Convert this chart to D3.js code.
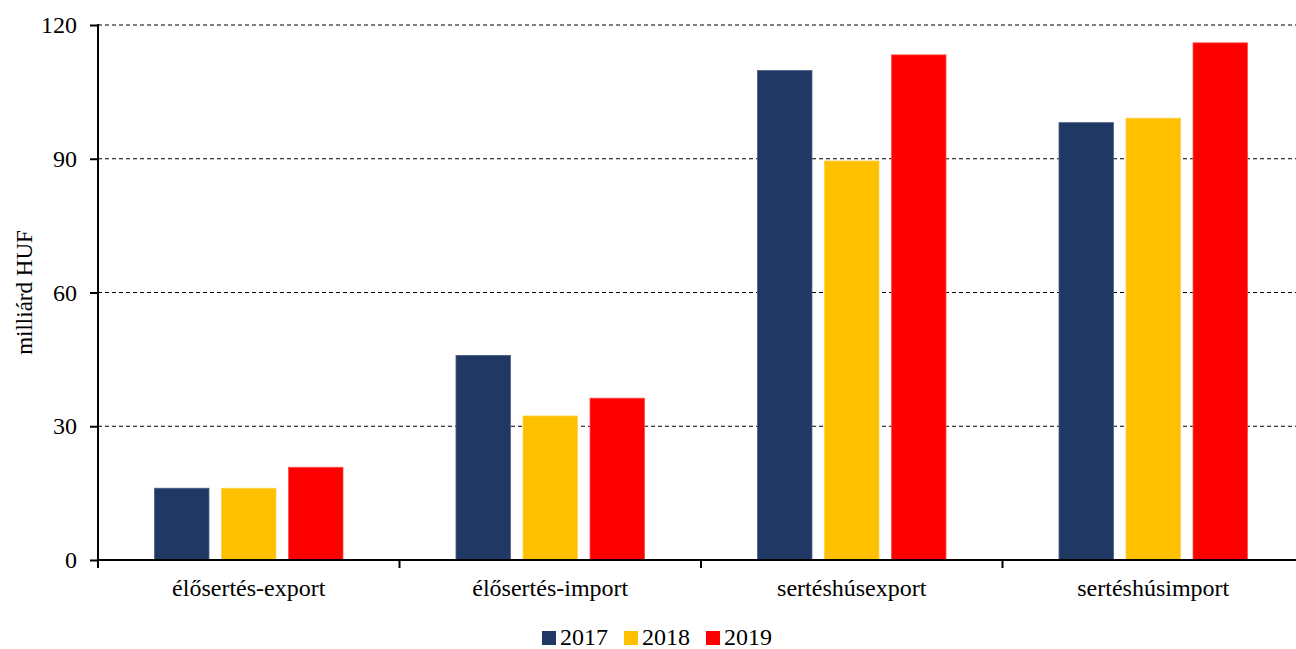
<!DOCTYPE html>
<html>
<head>
<meta charset="utf-8">
<script src="https://cdn.jsdelivr.net/npm/d3@7/dist/d3.min.js"></script>
<style>
  html, body { margin: 0; padding: 0; background: #fff; }
  svg { display: block; }
  text { font-family: "Times New Roman", Times, "Liberation Serif", serif; fill: #000; }
</style>
</head>
<body>
<svg id="chart" width="1296" height="649"></svg>
<script>
const categories = ["élősertés-export", "élősertés-import", "sertéshúsexport", "sertéshúsimport"];
const years = ["2017", "2018", "2019"];
const values2017 = [16.1, 45.9, 109.8, 98.1];
const values2018 = [16.1, 32.3, 89.5, 99.1];
const values2019 = [20.8, 36.3, 113.3, 116.0];
const yTicks = [0, 30, 60, 90, 120];
const colors = ["#203864", "#FFC000", "#FF0000"];
const strokeColors = ["#4c5f86", "#ffd04d", "#ff4d4d"];
const yTitle = "milliárd HUF";

(function () {
const FONT = '"Times New Roman", Times, "Liberation Serif", serif';
const series = [values2017, values2018, values2019];
const data = categories.map((c, i) => ({
  cat: c,
  vals: years.map((yr, j) => ({ year: yr, value: series[j][i], idx: j }))
}));

const svg = d3.select("#chart");
const mLeft = 98, mTop = 25, mBottom = 560, mRight = 1304;

const x0 = d3.scaleBand().domain(categories).range([mLeft, mRight]).padding(0);
const x1 = d3.scaleBand().domain(years).range([0, x0.bandwidth()])
  .paddingInner(0.187).paddingOuter(0.843);
const y = d3.scaleLinear().domain([0, 120]).range([mBottom, mTop]);

// gridlines
svg.append("g")
  .selectAll("line")
  .data(yTicks.filter(d => d > 0))
  .join("line")
  .attr("x1", mLeft).attr("x2", mRight)
  .attr("y1", d => y(d)).attr("y2", d => y(d))
  .attr("stroke", "#000")
  .attr("stroke-width", 1)
  .attr("stroke-dasharray", "4,3");

// bars
const groups = svg.append("g")
  .selectAll("g")
  .data(data)
  .join("g")
  .attr("transform", d => `translate(${x0(d.cat)},0)`);

groups.selectAll("rect")
  .data(d => d.vals)
  .join("rect")
  .attr("x", d => x1(d.year))
  .attr("width", x1.bandwidth())
  .attr("y", d => y(d.value))
  .attr("height", d => y(0) - y(d.value))
  .attr("fill", d => colors[d.idx])
  .attr("stroke", d => strokeColors[d.idx])
  .attr("stroke-width", 0.8);

// y axis
const yAxis = d3.axisLeft(y).tickValues(yTicks).tickSize(8).tickPadding(13).tickFormat(d3.format("d"));
const gy = svg.append("g").attr("transform", `translate(${mLeft},0)`).call(yAxis);
gy.select(".domain").remove();
gy.selectAll(".tick line").attr("stroke", "#000").attr("stroke-width", 2);
gy.selectAll(".tick text").attr("font-size", 24).attr("font-family", FONT).attr("fill", "#000");
gy.append("line").attr("x1", 0).attr("x2", 0).attr("y1", mTop - 1).attr("y2", mBottom + 8)
  .attr("stroke", "#000").attr("stroke-width", 2);

// x axis
const gx = svg.append("g").attr("transform", `translate(0,${mBottom})`);
gx.append("line").attr("x1", mLeft).attr("x2", mRight).attr("y1", 0).attr("y2", 0)
  .attr("stroke", "#000").attr("stroke-width", 2);
gx.selectAll("line.tk")
  .data(categories)
  .join("line")
  .attr("class", "tk")
  .attr("x1", d => x0(d)).attr("x2", d => x0(d))
  .attr("y1", 0).attr("y2", 8)
  .attr("stroke", "#000").attr("stroke-width", 2);
gx.selectAll("text")
  .data(categories)
  .join("text")
  .attr("x", d => x0(d) + x0.bandwidth() / 2)
  .attr("y", 36)
  .attr("text-anchor", "middle")
  .attr("font-family", FONT)
  .attr("font-size", 24)
  .text(d => d);

// y title
svg.append("text")
  .attr("transform", `translate(32,${(mTop + mBottom) / 2}) rotate(-90)`)
  .attr("text-anchor", "middle")
  .attr("font-family", FONT)
  .attr("font-size", 23)
  .text(yTitle);

// legend
const legendX = [542, 624, 706];
const lg = svg.append("g").selectAll("g")
  .data(years)
  .join("g")
  .attr("transform", (d, i) => `translate(${legendX[i]},630)`);
lg.append("rect").attr("y", 1).attr("width", 14).attr("height", 14)
  .attr("fill", (d, i) => colors[i]);
lg.append("text").attr("x", 18).attr("y", 15)
  .attr("font-family", FONT)
  .attr("font-size", 24).text(d => d);
})();
</script>
</body>
</html>
